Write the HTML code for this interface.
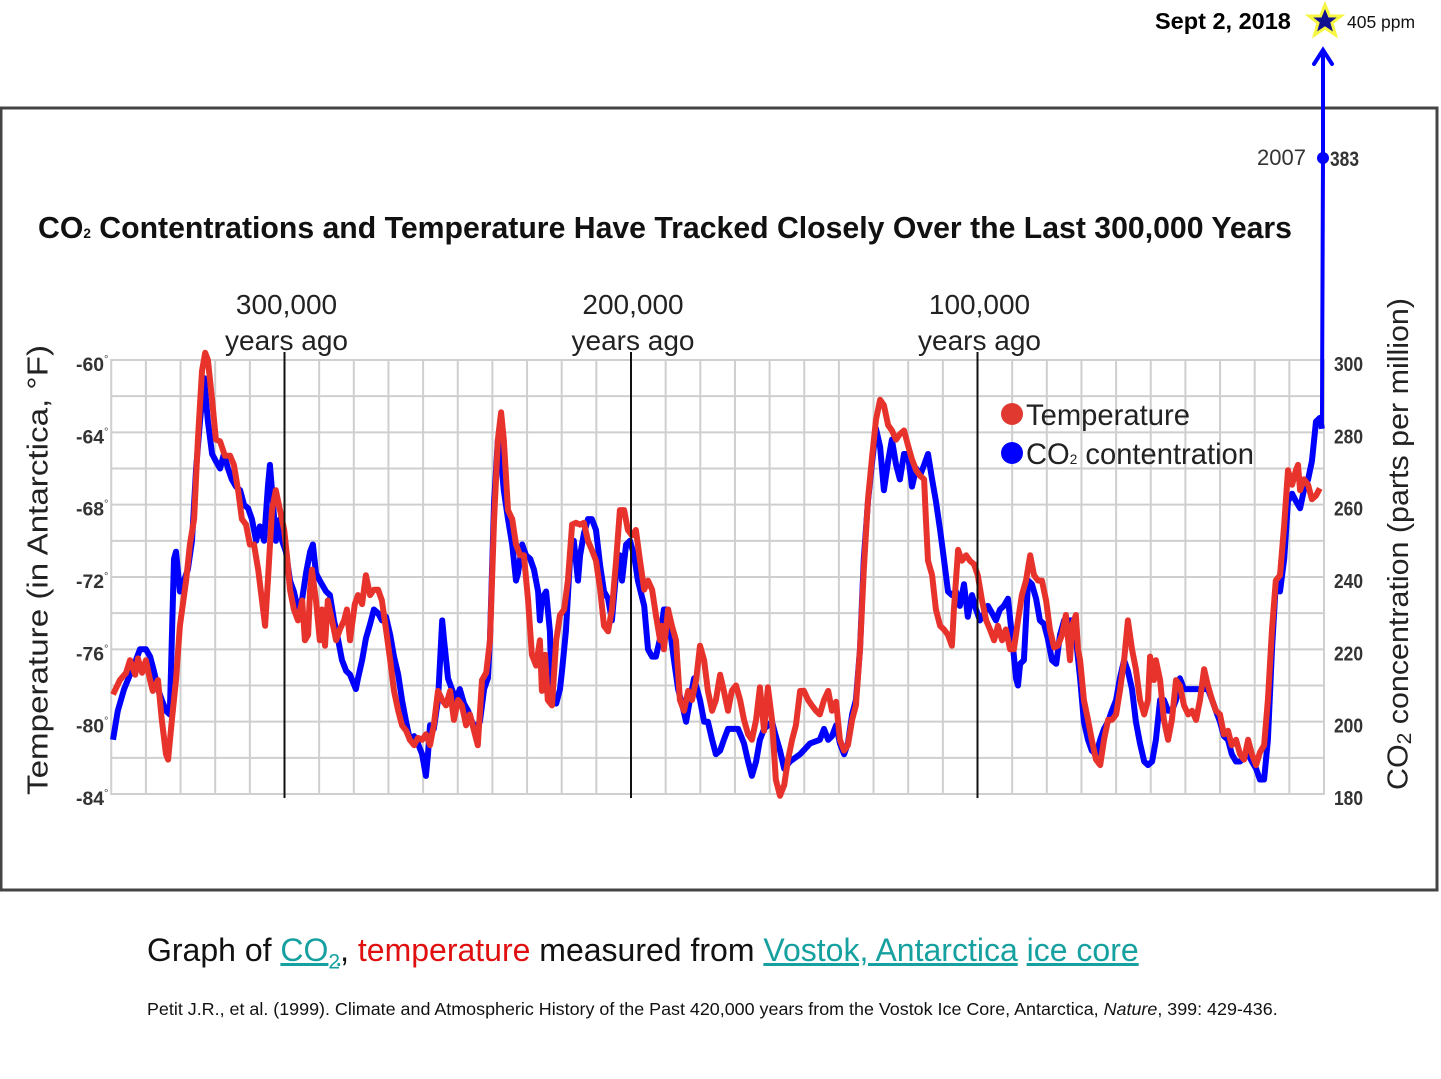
<!DOCTYPE html>
<html><head><meta charset="utf-8">
<style>
html,body{margin:0;padding:0;background:#fff;}
body{width:1441px;height:1079px;position:relative;overflow:hidden;font-family:"Liberation Sans",sans-serif;}
svg{position:absolute;left:0;top:0;}
.cap{position:absolute;left:147px;top:932px;font-size:32px;color:#111;white-space:nowrap;}
.cap a{color:#17a0a0;text-decoration:underline;}
.cite{position:absolute;left:147px;top:999px;font-size:17.9px;color:#111;white-space:nowrap;}
</style></head>
<body>
<svg id="chart" width="1441" height="1079">
 <rect x="1" y="108" width="1436" height="782" fill="#fff" stroke="#444" stroke-width="3"/>
 <g id="grid"></g>
 <g id="marks"></g>
 <g id="axes"></g>
 <text x="38" y="238" font-size="31" font-weight="bold" fill="#111" textLength="1254" lengthAdjust="spacingAndGlyphs">CO<tspan font-size="14">2</tspan> Contentrations and Temperature Have Tracked Closely Over the Last 300,000 Years</text>
 <text x="40" y="570" font-size="29" fill="#222" text-anchor="middle" textLength="450" lengthAdjust="spacingAndGlyphs" transform="rotate(-90 40 570)" dominant-baseline="middle">Temperature (in Antarctica, °F)</text>
 <text x="1400" y="544" font-size="29" fill="#222" text-anchor="middle" textLength="492" lengthAdjust="spacingAndGlyphs" transform="rotate(-90 1400 544)" dominant-baseline="middle">CO<tspan font-size="20" dy="6">2</tspan><tspan dy="-6"> concentration (parts per million)</tspan></text>
 <circle cx="1012" cy="414" r="11" fill="#e03a30"/>
 <text x="1026" y="425" font-size="30" fill="#222" textLength="164" lengthAdjust="spacingAndGlyphs">Temperature</text>
 <circle cx="1012" cy="453" r="11" fill="#0000ff"/>
 <text x="1026" y="464" font-size="30" fill="#222" textLength="228" lengthAdjust="spacingAndGlyphs">CO<tspan font-size="14">2</tspan> contentration</text>
 <text x="1306" y="165" font-size="22" fill="#333" text-anchor="end">2007</text>
 <text x="1330" y="166" font-size="21" font-weight="bold" fill="#333" textLength="29" lengthAdjust="spacingAndGlyphs">383</text>
 <text x="1155" y="29" font-size="23.5" font-weight="bold" fill="#000">Sept 2, 2018</text>
 <text x="1347" y="28" font-size="17.5" fill="#111">405 ppm</text>
 <polygon points="1325,5 1329.5,16 1341,16 1332,23 1335.5,35 1325,28 1314.5,35 1318,23 1309,16 1320.5,16" fill="#101090" stroke="#f5f542" stroke-width="3"/>
</svg>
<div class="cap">Graph of <a>CO<sub style="font-size:21px">2</sub></a>, <span style="color:#e01010">temperature</span> measured from <a>Vostok, Antarctica</a> <a>ice core</a></div>
<div class="cite">Petit J.R., et al. (1999). Climate and Atmospheric History of the Past 420,000 years from the Vostok Ice Core, Antarctica, <i>Nature</i>, 399: 429-436.</div>
<script>
const tempAges=[349.5,347.5,345.7,344.6,343.1,342.3,341.1,340.0,338.8,338.0,336.5,335.4,334.2,333.6,332.5,331.3,330.2,328.4,327.3,326.1,325.0,323.8,322.9,322.1,320.9,319.8,318.6,317.2,315.7,314.6,313.4,312.3,311.1,310.0,308.8,307.6,306.5,305.6,304.8,303.6,302.5,301.3,300.1,299.3,298.4,297.3,296.1,294.9,294.1,293.2,292.6,292.1,290.9,289.8,289.2,288.3,287.5,286.3,285.1,284.0,282.8,282.0,281.1,279.7,278.8,277.6,276.5,275.3,274.2,273.0,271.9,270.7,269.5,268.4,267.2,266.1,264.9,263.8,262.6,261.5,260.3,259.2,258.0,256.9,255.7,254.5,253.4,252.2,251.1,249.9,248.8,247.6,246.5,245.3,244.2,243.0,241.8,240.7,239.5,238.4,237.5,236.7,235.5,234.3,233.2,232.0,230.9,229.7,228.6,227.4,226.3,225.7,224.8,224.0,222.8,221.6,220.5,219.3,218.2,217.0,215.9,214.7,213.6,212.4,211.3,210.1,208.9,207.8,206.6,205.5,204.3,203.2,202.0,200.9,199.7,198.6,197.4,196.2,195.1,193.9,192.8,191.6,191.1,190.5,189.3,188.2,187.0,185.9,184.7,183.5,182.4,181.2,180.1,178.9,177.8,176.6,175.5,174.3,173.2,172.0,170.9,169.7,168.5,167.4,166.2,165.1,163.9,162.8,161.6,160.5,159.3,158.2,157.0,155.8,154.7,153.5,152.4,151.2,150.1,148.9,147.8,146.6,145.5,144.3,143.1,142.0,140.8,139.7,138.5,137.4,136.2,135.1,133.9,132.8,131.6,130.4,129.3,128.1,127.0,125.8,124.7,123.5,122.4,121.2,120.1,118.9,117.7,116.6,115.4,114.9,114.3,113.1,112.0,110.8,109.7,108.5,107.4,106.8,105.6,104.5,103.3,102.2,101.0,99.9,98.7,97.5,96.4,95.2,94.1,92.9,91.8,90.6,89.5,88.3,87.2,86.0,84.8,83.7,82.5,81.4,80.2,79.1,77.9,76.8,75.6,74.5,73.3,72.7,71.6,71.0,70.4,69.3,68.1,67.0,65.8,64.6,63.5,62.3,61.2,60.0,58.9,57.7,56.6,55.4,54.3,53.1,51.9,50.8,50.2,49.1,48.5,47.3,46.2,45.0,43.9,42.7,41.6,40.4,39.2,38.1,36.9,35.8,34.6,33.5,32.3,31.2,30.0,28.9,27.7,26.6,25.4,24.2,23.1,21.9,20.8,19.6,18.5,17.3,16.2,15.0,13.9,12.7,11.5,10.4,9.2,8.1,7.5,6.9,5.8,4.6,3.5,2.3,1.2];
const tempValues=[-78.5,-77.7,-77.3,-76.6,-77.4,-76.5,-77.3,-76.6,-77.7,-78.3,-77.7,-79.9,-81.8,-82.1,-79.9,-77.7,-74.7,-72.2,-70.2,-68.8,-64.4,-60.6,-59.6,-60.0,-62.2,-64.4,-64.5,-65.3,-65.3,-65.8,-67.2,-68.8,-69.1,-70.2,-70.2,-71.6,-73.3,-74.7,-72.2,-68.3,-67.2,-68.3,-69.4,-70.8,-72.7,-73.8,-74.4,-73.3,-75.5,-75.2,-72.7,-71.6,-73.3,-75.5,-73.8,-75.8,-73.3,-74.4,-75.5,-74.9,-74.4,-73.8,-75.5,-73.5,-73.0,-73.5,-71.9,-73.0,-72.7,-72.7,-73.3,-74.9,-76.6,-78.3,-79.4,-80.2,-80.5,-81.0,-81.3,-80.9,-81.0,-80.7,-81.3,-80.2,-78.3,-78.8,-79.1,-78.3,-79.9,-78.8,-79.1,-80.2,-79.6,-80.5,-81.3,-77.7,-77.3,-75.5,-68.8,-64.4,-62.9,-64.4,-68.3,-68.8,-70.2,-70.8,-70.8,-73.3,-76.3,-76.9,-75.5,-78.3,-76.3,-78.8,-79.1,-75.5,-74.1,-73.8,-72.2,-69.1,-69.0,-69.1,-69.0,-70.0,-70.5,-71.1,-72.7,-74.7,-75.0,-73.8,-71.1,-68.3,-68.3,-69.4,-69.7,-69.4,-71.1,-72.7,-72.2,-72.7,-74.1,-75.5,-74.7,-76.0,-73.8,-74.7,-75.5,-78.8,-79.4,-78.3,-78.8,-77.7,-75.8,-76.6,-78.3,-79.4,-78.8,-77.4,-78.3,-79.4,-78.3,-78.0,-78.8,-79.9,-80.7,-81.0,-79.9,-78.1,-80.5,-78.1,-79.9,-83.2,-84.1,-83.5,-82.1,-81.0,-80.2,-78.3,-78.3,-78.8,-79.1,-79.4,-79.6,-78.8,-78.3,-79.4,-78.9,-81.0,-81.6,-81.3,-79.9,-79.1,-76.0,-71.6,-67.7,-65.3,-63.3,-62.2,-62.5,-63.6,-63.9,-64.4,-64.1,-63.9,-64.7,-65.5,-66.1,-66.4,-66.6,-68.8,-71.1,-71.9,-73.8,-74.7,-74.9,-75.2,-75.8,-73.8,-70.5,-71.1,-70.8,-71.1,-71.3,-71.9,-73.3,-74.4,-74.9,-75.5,-74.7,-75.5,-74.9,-76.0,-76.0,-74.4,-73.0,-72.2,-70.8,-71.9,-72.2,-72.2,-73.3,-74.9,-75.9,-75.8,-75.2,-74.1,-76.6,-74.7,-74.1,-76.0,-76.6,-78.8,-79.9,-81.0,-82.1,-82.4,-81.0,-79.9,-79.9,-79.6,-78.3,-76.6,-74.4,-76.0,-77.1,-78.8,-79.6,-78.8,-76.4,-77.7,-76.6,-77.7,-79.9,-81.0,-79.9,-77.7,-78.0,-79.1,-79.6,-79.4,-79.9,-78.8,-77.1,-78.0,-78.8,-79.4,-79.6,-80.7,-80.5,-81.3,-81.0,-81.8,-82.1,-81.0,-81.8,-82.4,-81.7,-81.3,-78.8,-74.9,-72.2,-71.9,-69.1,-66.1,-66.9,-66.1,-65.8,-67.2,-66.6,-66.9,-67.7,-67.5,-67.1];
const co2Ages=[349.5,348.1,346.3,344.6,342.9,341.7,340.0,338.8,337.7,336.5,335.4,334.2,333.1,331.9,331.3,330.2,329.0,327.9,326.7,325.5,324.4,323.2,322.1,320.9,319.8,318.6,317.5,316.3,315.2,314.0,312.8,311.7,310.5,309.4,308.2,307.1,305.9,304.8,304.2,303.6,302.5,301.3,300.7,299.6,298.4,297.3,296.1,294.9,293.8,292.6,291.8,290.9,289.8,288.0,286.9,285.7,284.6,283.4,282.2,281.1,279.4,278.8,277.6,276.5,275.3,274.2,273.0,271.9,270.7,269.5,268.4,267.2,266.1,264.9,263.8,262.6,261.5,260.3,259.2,258.6,258.0,256.9,255.7,254.5,254.0,252.8,251.7,250.5,249.4,248.2,247.0,245.9,244.7,243.6,242.4,241.3,240.7,239.5,238.4,237.5,236.7,235.5,234.3,233.2,232.6,231.4,230.3,229.1,228.0,226.8,226.3,225.7,224.5,223.4,222.8,221.6,220.5,219.9,218.8,217.6,216.5,215.3,214.7,213.6,212.4,211.3,210.1,208.9,207.8,206.6,205.5,204.3,203.2,202.6,201.4,200.3,199.1,198.0,196.2,195.1,193.9,192.8,191.6,190.5,189.3,188.7,187.6,186.4,185.3,184.1,183.0,181.8,180.1,178.9,177.8,176.6,175.5,174.3,173.2,172.0,170.9,169.1,167.4,166.2,165.1,163.9,162.8,161.6,160.5,159.3,158.2,157.0,155.8,154.1,151.2,148.3,145.5,144.3,143.1,142.0,140.8,139.7,138.5,137.4,136.2,135.1,133.9,132.8,131.6,130.4,129.3,128.1,127.0,125.8,124.7,123.5,122.4,121.2,120.1,118.9,117.7,116.6,115.4,114.3,113.1,112.0,110.8,109.7,108.5,107.4,106.2,105.1,103.9,102.8,101.6,100.4,99.3,98.1,97.0,95.8,94.7,93.5,92.4,91.2,90.0,88.9,88.3,87.7,86.6,85.4,84.3,83.1,82.0,80.8,79.7,78.5,77.3,76.2,75.0,73.9,72.7,71.6,70.4,69.3,68.1,67.0,65.8,64.6,63.5,62.3,61.2,60.0,58.9,57.7,56.6,55.4,54.3,53.1,51.9,50.8,49.6,48.5,47.3,46.2,45.0,43.9,42.7,41.6,40.4,39.2,38.1,36.9,35.8,34.6,33.5,32.3,31.2,30.0,28.9,27.7,26.6,25.4,24.2,23.1,21.9,20.8,19.6,18.5,17.3,16.2,15.0,13.9,12.7,11.5,10.4,9.2,8.1,6.9,5.8,4.6,3.5,2.3,1.2,0.6];
const co2Values=[195,203,209,213,217,220,220,218,214,209,206,203,202,245,247,236,239,242,250,270,283,295,283,274,272,270,274,270,267,265,264,260,259,256,250,254,250,265,271,264,250,256,250,247,239,236,231,234,241,247,249,241,239,236,235,228,223,217,214,213,209,212,217,223,227,231,230,228,229,224,218,213,206,200,195,196,194,191,185,191,199,198,206,228,223,212,209,206,209,205,203,200,198,200,209,212,223,261,278,272,264,256,249,239,241,249,246,245,242,236,228,234,236,225,206,205,209,214,225,245,250,239,246,252,256,256,253,243,236,234,228,241,246,239,249,250,246,239,232,220,218,218,223,231,231,225,217,209,205,200,206,212,206,200,200,195,191,192,195,198,198,198,194,189,185,189,195,198,199,200,196,192,187,189,191,194,195,198,195,196,199,194,191,194,202,206,220,245,261,272,281,276,264,272,278,271,267,274,274,265,270,268,271,274,267,261,253,245,236,235,236,232,238,229,235,231,228,230,232,230,228,231,232,234,223,212,210,216,217,239,238,234,228,227,223,217,216,224,228,228,228,223,212,200,195,192,191,195,198,200,203,206,212,217,214,209,200,194,189,188,189,195,206,206,203,203,206,212,209,209,209,209,209,209,209,206,203,200,196,195,191,189,189,190,191,189,187,184,184,195,220,238,236,245,261,263,261,259,264,267,272,283,284,281];
const tempTicks=[-60,-64,-68,-72,-76,-80,-84];
const co2Ticks=[300,280,260,240,220,200,180];
const ageMarkers=[300,200,100];
const ageLabels=["300,000","200,000","100,000"];

const NS="http://www.w3.org/2000/svg";
const X0=1324, PXK=3.465, Y0=360, YB=794;
function xAge(k){return X0-k*PXK;}
function yT(t){return Y0+(-60-t)*(YB-Y0)/24;}
function yC(c){return Y0+(300-c)*(YB-Y0)/120;}
function mk(tag,attrs,parent){const e=document.createElementNS(NS,tag);for(const k in attrs)e.setAttribute(k,attrs[k]);parent.appendChild(e);return e;}

const grid=document.getElementById('grid'), marks=document.getElementById('marks'), axes=document.getElementById('axes');
for(let t=-60;t>=-84;t-=2){
  const l=mk('line',{x1:xAge(350.3),x2:xAge(-0.3),y1:yT(t),y2:yT(t),stroke:'#cfcfcf','stroke-width':2},grid);
  
  
}
for(let k=350;k>=0;k-=10){
  const l=mk('line',{x1:xAge(k),x2:xAge(k),y1:Y0,y2:YB,stroke:'#cfcfcf','stroke-width':2},grid);
  
  
}
ageMarkers.forEach((k,i)=>{
  const l=mk('line',{x1:xAge(k),x2:xAge(k),y1:Y0-8,y2:YB+4,stroke:'#111','stroke-width':2},axes);
  
  
  const t1=mk('text',{x:xAge(k)+2,y:314,'font-size':28,'text-anchor':'middle',fill:'#222'},axes);
  t1.textContent=ageLabels[i];
  
  
  const t2=mk('text',{x:xAge(k)+2,y:350,'font-size':28,'text-anchor':'middle',fill:'#222'},axes);
  t2.textContent='years ago';
  
  
});
tempTicks.forEach(t=>{
  const e=mk('text',{x:104,y:yT(t)+11,'font-size':19,'font-weight':'bold','text-anchor':'end',fill:'#333',textLength:28,lengthAdjust:'spacingAndGlyphs'},axes);
  e.textContent=t;
  
  
  const d=mk('text',{x:104,y:yT(t)+3,'font-size':11,fill:'#444'},axes);
  d.textContent='°';
  
  
});
co2Ticks.forEach(c=>{
  const e=mk('text',{x:1334,y:yC(c)+11,'font-size':20,'font-weight':'bold',fill:'#333',textLength:29,lengthAdjust:'spacingAndGlyphs'},axes);
  e.textContent=c;
  
  
});
function pathFrom(ages,vals,yf){return ages.map((a,i)=>(i?'L':'M')+xAge(a).toFixed(1)+','+yf(vals[i]).toFixed(1)).join(' ');}
const lastX=xAge(co2Ages[co2Ages.length-1]);
const recentY=158;
const spike=mk('path',{d:'M'+lastX+','+yC(co2Values[co2Values.length-1])+' L'+1323+','+recentY+' L1323,52',fill:'none',stroke:'#0000ff','stroke-width':4},marks);


const arrow=mk('path',{d:'M1314,64 L1323,50 L1332,64',fill:'none',stroke:'#0000ff','stroke-width':4,'stroke-linecap':'round'},marks);


const dot=mk('circle',{cx:1323,cy:recentY,r:6,fill:'#0000ff'},marks);


const co2=mk('path',{d:pathFrom(co2Ages,co2Values,yC),fill:'none',stroke:'#0000ff','stroke-width':6,'stroke-linejoin':'round'},marks);


const tmp=mk('path',{d:pathFrom(tempAges,tempValues,yT),fill:'none',stroke:'#e8332c','stroke-width':6,'stroke-linejoin':'round'},marks);


</script>
</body></html>
